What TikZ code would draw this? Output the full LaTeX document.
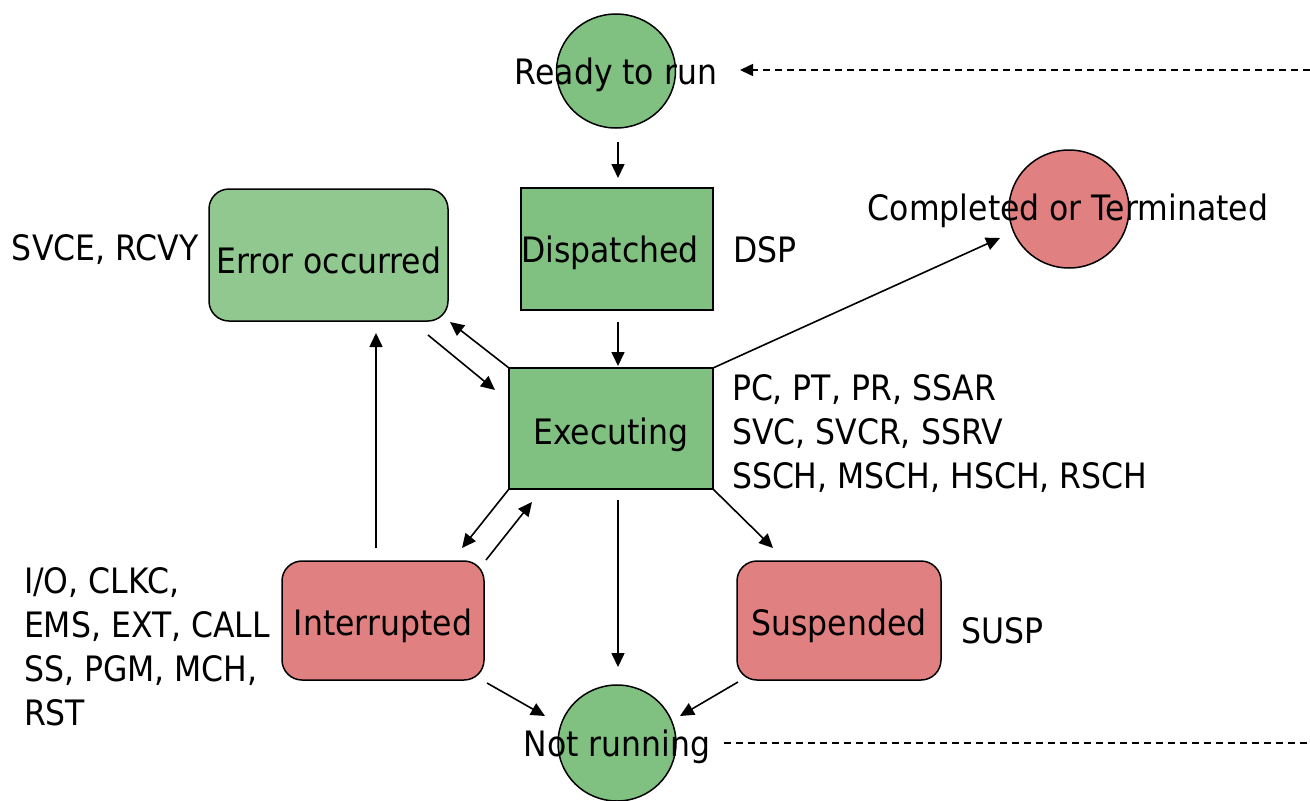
\documentclass[tikz,border=0pt]{standalone}
\usepackage{fontspec}
\setmainfont{DejaVu Sans}[FakeStretch=0.9]
\usetikzlibrary{arrows.meta,shapes.geometric}
\definecolor{gfill}{HTML}{80C080}
\definecolor{gfillL}{HTML}{90C890}
\definecolor{rfill}{HTML}{E08080}
\tikzset{
  box/.style={draw=black,line width=1.5pt,inner sep=0pt,outer sep=0pt,anchor=center},
  sqbox/.style={box,rectangle,fill=gfill},
  rbox/.style={box,rectangle,rounded corners=20pt},
  ell/.style={box,ellipse},
  txt/.style={font=\fontsize{35}{44}\selectfont,inner sep=0pt,outer sep=0pt},
  lbl/.style={txt,align=left,anchor=west},
  arr/.style={line width=1.6pt,-{Triangle[length=14pt,width=13pt]}},
  dsh/.style={line width=1.5pt,dash pattern=on 7pt off 5pt}
}
\begin{document}
\begin{tikzpicture}[x=1pt,y=-1pt]
\useasboundingbox (0,0) rectangle (1310,801);
% states
\node[ell,fill=gfill,minimum width=119pt,minimum height=114pt] (ready) at (616,71) {};
\node[txt] (readyt) at (616,75) {Ready to run};
\node[sqbox,minimum width=192pt,minimum height=122pt] (disp) at (617,249) {};
\node[txt] (dispt) at (610,253) {Dispatched};
\node[sqbox,minimum width=204pt,minimum height=121pt] (exec) at (611,428.5) {};
\node[txt] (exect) at (611,435) {Executing};
\node[rbox,fill=gfillL,minimum width=239pt,minimum height=132pt] (err) at (328.5,255) {};
\node[txt] (errt) at (329,260) {Error occurred};
\node[ell,fill=rfill,minimum width=120pt,minimum height=118pt] (comp) at (1069,209) {};
\node[txt] (compt) at (1068,211) {Completed or Terminated};
\node[rbox,fill=rfill,minimum width=202pt,minimum height=119pt] (intr) at (383,620.5) {};
\node[txt] (intrt) at (383,626) {Interrupted};
\node[rbox,fill=rfill,minimum width=204pt,minimum height=119pt] (susp) at (839,620.5) {};
\node[txt] (suspt) at (839,626) {Suspended};
\node[ell,fill=gfill,minimum width=118pt,minimum height=116pt] (nr) at (617,743) {};
\node[txt] (nrt) at (617,747) {Not running};
% labels
\node[lbl] (errl) at (12,250) {SVCE, RCVY};
\node[lbl] (displ) at (733,250) {DSP};
\node[lbl] (execl) at (732,434) {PC, PT, PR, SSAR\\SVC, SVCR, SSRV\\SSCH, MSCH, HSCH, RSCH};
\node[lbl] (intrl) at (24,647) {I/O, CLKC,\\EMS, EXT, CALL\\SS, PGM, MCH,\\RST};
\node[lbl] (suspl) at (961,631) {SUSP};
% helper coordinates
\coordinate (c1) at (618,142);
\coordinate (c2) at (618,178);
\coordinate (c3) at (618,322);
\coordinate (c4) at (618,366);
\coordinate (c5) at (450,322);
\coordinate (c6a) at (428,335);
\coordinate (c6b) at (495,390);
\coordinate (c7) at (1000,238);
\coordinate (c8a) at (376,548);
\coordinate (c8b) at (376,333);
\coordinate (c9) at (462,548);
\coordinate (c10a) at (486,560);
\coordinate (c10b) at (532,502);
\coordinate (c11a) at (618,500);
\coordinate (c11b) at (618,667);
\coordinate (c12) at (773,548);
\coordinate (c13a) at (487,683);
\coordinate (c13b) at (545,716);
\coordinate (c14a) at (738,682);
\coordinate (c14b) at (680,716);
\coordinate (d1a) at (724,743);
\coordinate (d1b) at (1310,743);
\coordinate (d2a) at (1310,70);
\coordinate (d2b) at (740,70);
% connectors
\draw[arr] (c1) -- (c2);
\draw[arr] (c3) -- (c4);
\draw[arr] (exec.north west) -- (c5);
\draw[arr] (c6a) -- (c6b);
\draw[arr] (exec.north east) -- (c7);
\draw[arr] (c8a) -- (c8b);
\draw[arr] (exec.south west) -- (c9);
\draw[arr] (c10a) -- (c10b);
\draw[arr] (c11a) -- (c11b);
\draw[arr] (exec.south east) -- (c12);
\draw[arr] (c13a) -- (c13b);
\draw[arr] (c14a) -- (c14b);
\draw[dsh] (d1a) -- (d1b);
\draw[dsh,-{Triangle[length=13pt,width=12pt]}] (d2a) -- (d2b);
\end{tikzpicture}
\end{document}
